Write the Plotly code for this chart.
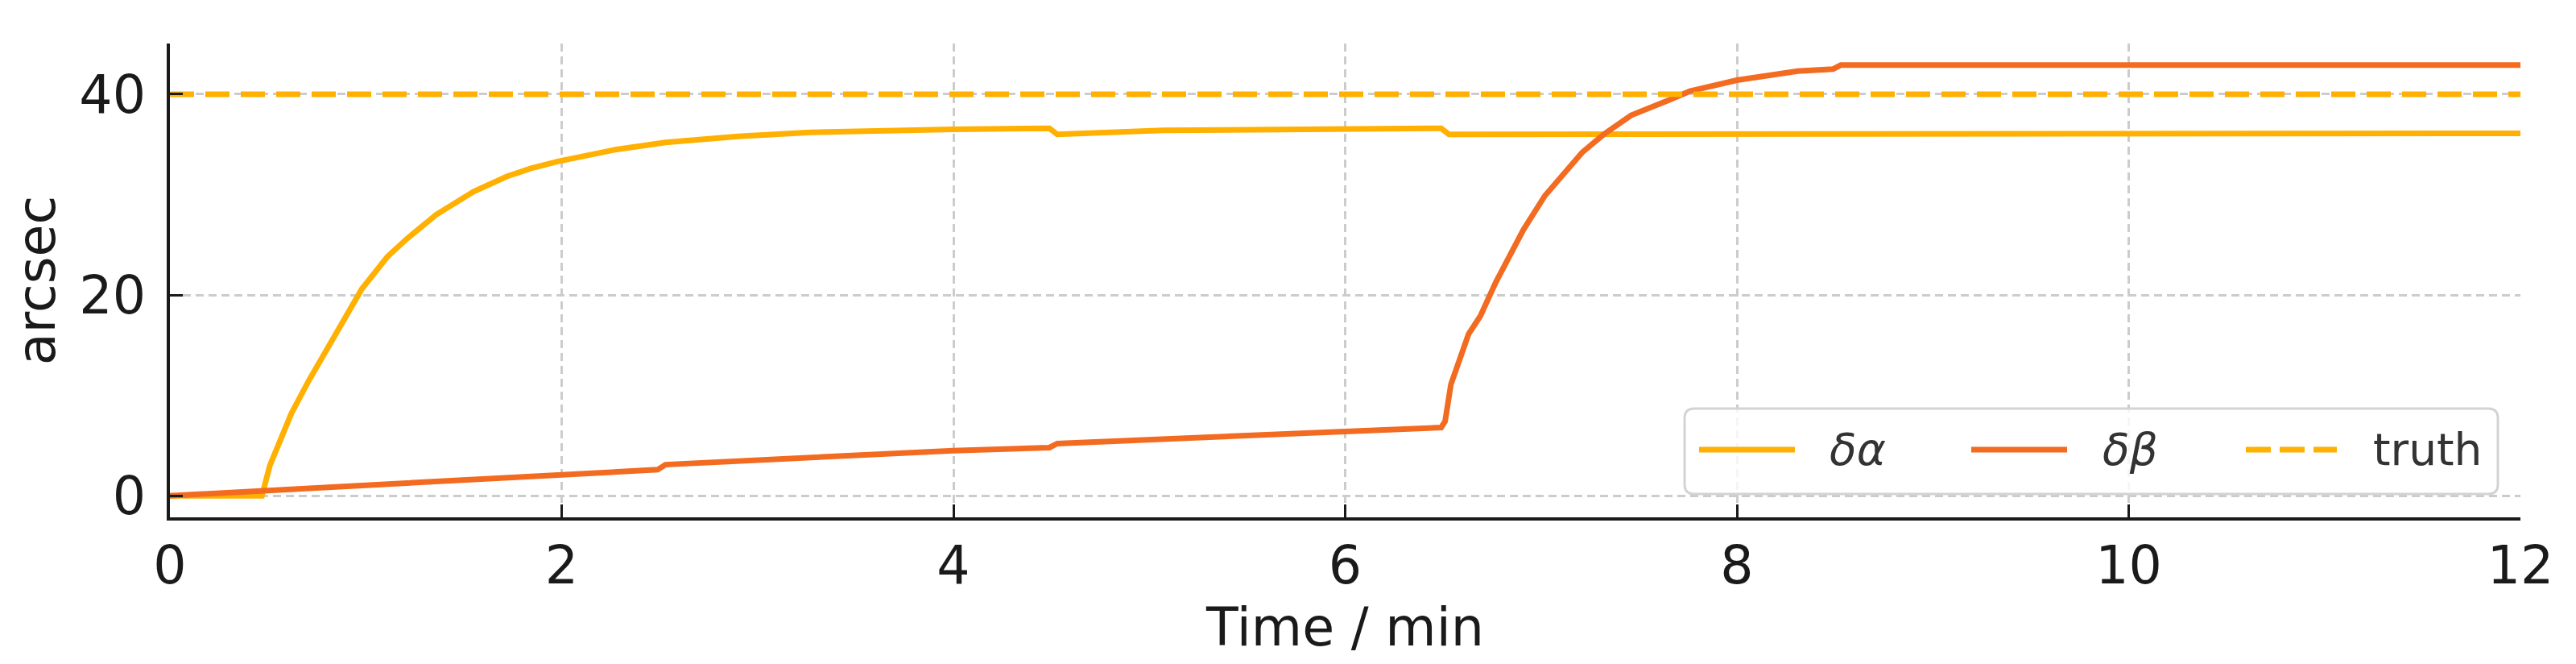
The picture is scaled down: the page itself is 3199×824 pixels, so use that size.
import plotly.graph_objects as go

# ── data ──────────────────────────────────────────────────────────────────
ALPHA_T = [0, 0.47, 0.51, 0.54, 0.62, 0.71, 0.77, 0.87, 0.92, 0.98, 1.11, 1.21,
           1.36, 1.55, 1.72, 1.84, 1.98, 2.17, 2.28, 2.53, 2.90, 3.27, 3.64, 4.0,
           4.49, 4.53, 5.07, 5.59, 6.0, 6.49, 6.53, 8.49, 8.53, 12]
ALPHA_V = [0, 0, 3.0, 4.4, 8.2, 11.5, 13.5, 16.8, 18.5, 20.6, 23.8, 25.6,
           28.0, 30.3, 31.8, 32.6, 33.3, 34.1, 34.5, 35.2, 35.8, 36.2, 36.4, 36.5,
           36.6, 36.0, 36.4, 36.5, 36.6, 36.6, 36.0, 36.0, 36.1, 36.1]

BETA_T = [0, 2.0, 2.49, 2.53, 4.0, 4.49, 4.53, 6.0, 6.49, 6.51, 6.54, 6.63,
          6.69, 6.77, 6.84, 6.91, 7.02, 7.10, 7.21, 7.32, 7.46, 7.65, 7.76,
          8.0, 8.31, 8.49, 8.53, 12]
BETA_V = [0, 2.2, 2.6, 3.1, 4.5, 4.8, 5.2, 6.4, 6.8, 7.4, 11.1, 16.1,
          17.9, 21.3, 24.0, 26.5, 29.9, 31.7, 34.2, 36.0, 37.9, 39.4, 40.3,
          41.4, 42.3, 42.5, 42.9, 42.9]

TRUTH_T = [0, 12]
TRUTH_V = [40, 40]

X_TICKS = [0, 2, 4, 6, 8, 10, 12]
Y_TICKS = [0, 20, 40]

# ── style ─────────────────────────────────────────────────────────────────
YELLOW = "#FFB000"
ORANGE = "#F26B21"
INK    = "#1a1a1a"
GRID   = "#cccccc"
FONT   = "DejaVu Sans"
LW     = 7

W, H = 3199, 824
L, R, T, B = 203, 77, 46, 190


def rounded_rect(x0, y0, x1, y1, rx, ry):
    """SVG path for a rounded rectangle in paper coordinates."""
    return (f"M{x0+rx},{y0} L{x1-rx},{y0} Q{x1},{y0} {x1},{y0+ry} "
            f"L{x1},{y1-ry} Q{x1},{y1} {x1-rx},{y1} L{x0+rx},{y1} "
            f"Q{x0},{y1} {x0},{y1-ry} L{x0},{y0+ry} Q{x0},{y0} {x0+rx},{y0} Z")


fig = go.Figure()
fig.add_trace(go.Scatter(x=ALPHA_T, y=ALPHA_V, mode="lines",
                         line=dict(color=YELLOW, width=LW), name="δα"))
fig.add_trace(go.Scatter(x=BETA_T, y=BETA_V, mode="lines",
                         line=dict(color=ORANGE, width=LW), name="δβ"))
fig.add_trace(go.Scatter(x=TRUTH_T, y=TRUTH_V, mode="lines",
                         line=dict(color=YELLOW, width=LW, dash="30px,14px"),
                         name="truth"))

# ── hand-drawn legend (matplotlib-like: long samples, rounded frame) ──────
pw, ph = W - L - R, H - T - B
px = lambda p: (p - L) / pw
py = lambda p: (H - B - p) / ph

shapes = [dict(type="path", xref="paper", yref="paper", layer="above",
               path=rounded_rect(px(2084), py(605), px(3094), py(499), 12 / pw, 12 / ph),
               fillcolor="rgba(255,255,255,0.8)", line=dict(color="#d3d3d3", width=3))]
yc = py(550)
items = [(2102, 2221, 2262, YELLOW, "solid", "<i>δα</i>"),
         (2440, 2559, 2601, ORANGE, "solid", "<i>δβ</i>"),
         (2781, 2894, 2937, YELLOW, "31px,11px", "truth")]
annotations = []
for s0, s1, tx, col, dash, label in items:
    shapes.append(dict(type="line", xref="paper", yref="paper", layer="above",
                       x0=px(s0), x1=px(s1), y0=yc, y1=yc,
                       line=dict(color=col, width=LW, dash=dash)))
    annotations.append(dict(x=px(tx), y=yc, xref="paper", yref="paper",
                            text=label, showarrow=False, xanchor="left",
                            yanchor="middle", font=dict(size=55, color="#333333", family=FONT)))

axis_common = dict(
    showline=True, linecolor=INK, linewidth=4, mirror=False,
    ticks="inside", ticklen=16, tickwidth=3, tickcolor=INK,
    showgrid=True, gridcolor=GRID, gridwidth=2.5, griddash="10px,6px",
    zeroline=False, tickfont=dict(size=65, color=INK, family=FONT),
)

fig.update_layout(
    width=W, height=H,
    margin=dict(l=L, r=R, t=T, b=B),
    paper_bgcolor="white", plot_bgcolor="white",
    showlegend=False,
    font=dict(family=FONT, color=INK),
    xaxis=dict(range=[0, 12], tickvals=X_TICKS,
               title=dict(text="Time / min", font=dict(size=65, color=INK), standoff=18),
               **axis_common),
    yaxis=dict(range=[-2.15, 45.05], tickvals=Y_TICKS, ticklabelstandoff=13,
               title=dict(text="arcsec", font=dict(size=65, color=INK), standoff=22),
               **axis_common),
    shapes=shapes,
    annotations=annotations,
)

fig.write_html("out.html")
